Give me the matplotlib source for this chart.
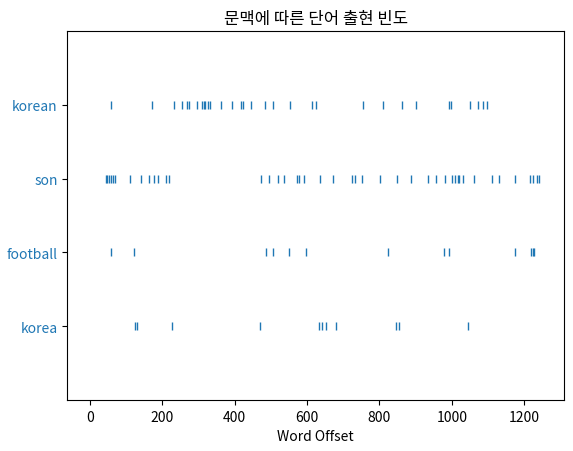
import matplotlib
matplotlib.use("Agg")
import matplotlib.pyplot as plt

plt.rcParams['font.family'] = ['Noto Sans CJK KR', 'DejaVu Sans']

# words from top to bottom
words = ["korean", "son", "football", "korea"]

# word offsets
korean = [57, 172, 233, 255, 269, 273, 296, 311, 315, 318, 326, 332, 363, 393,
          417, 422, 445, 484, 506, 553, 614, 625, 755, 810, 863, 901, 992, 998,
          1051, 1073, 1087, 1098]
son = [44, 48, 52, 57, 64, 68, 111, 142, 164, 176, 187, 210, 218, 473, 495, 519,
       536, 572, 578, 592, 636, 672, 725, 732, 752, 802, 849, 888, 935, 957, 982,
       1001, 1009, 1016, 1020, 1032, 1062, 1111, 1131, 1174, 1216, 1225, 1236, 1241]
football = [59, 122, 486, 506, 551, 598, 824, 979, 993, 1175, 1219, 1223, 1227]
korea = [124, 129, 227, 471, 633, 642, 651, 680, 846, 855, 1045]

offsets = {"korean": korean, "son": son, "football": football, "korea": korea}

xs, ys = [], []
for y, w in enumerate(reversed(words)):
    for x in offsets[w]:
        xs.append(x)
        ys.append(y)

fig = plt.figure(figsize=(5.73, 4.52), dpi=100)
ax = fig.add_axes([0.1175, 0.1128, 0.8668, 0.8162])
ax.plot(xs, ys, "|")
ax.set_yticks(list(range(len(words))), list(reversed(words)), color="C0")
ax.set_ylim(-1, len(words))
ax.set_xlim(-62.5, 1310)
ax.set_title("문맥에 따른 단어 출현 빈도")
ax.set_xlabel("Word Offset")

fig.savefig("out.png", dpi=100)
